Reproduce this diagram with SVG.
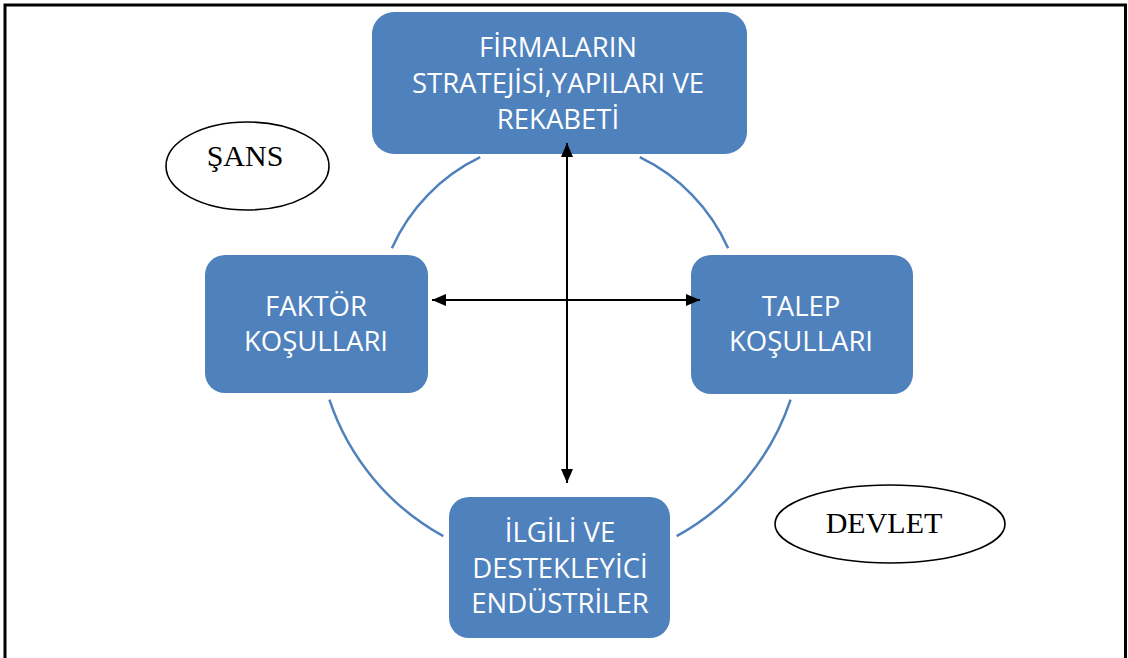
<svg xmlns="http://www.w3.org/2000/svg" width="1128" height="658" viewBox="0 0 1128 658">
  <defs>
    <marker id="ah" viewBox="0 0 14 12" refX="14" refY="6" markerWidth="14" markerHeight="12" markerUnits="userSpaceOnUse" orient="auto-start-reverse">
      <path d="M0,0 L14,6 L0,12 z" fill="#000"/>
    </marker>
  </defs>
  <style>
    .box { fill: #4F81BD; }
    .bt { font-family: "Open Sans", "Liberation Sans", sans-serif; font-size: 27.5px; fill: #fff; text-anchor: middle; }
    .oval { fill: #fff; stroke: #000; stroke-width: 1.6; }
    .ot { font-family: "Liberation Serif", serif; font-size: 30px; fill: #000; text-anchor: middle; }
    .arc { fill: none; stroke: #4F81BD; stroke-width: 2.5; }
    .conn { stroke: #000; stroke-width: 2; fill: none; }
  </style>
  <rect width="1128" height="658" fill="#fff"/>
  <path d="M5,658 V5 H1125.5 V658" fill="none" stroke="#000" stroke-width="3"/>

  <g id="cycle-arcs">
    <path class="arc" d="M480.2,157.2 A184,184 0 0 0 391.9,248.2"/>
    <path class="arc" d="M639.8,157.2 A184,184 0 0 1 728.1,248.2"/>
    <path class="arc" d="M329.4,399.7 A243,243 0 0 0 443.3,536.1"/>
    <path class="arc" d="M790.6,399.7 A243,243 0 0 1 676.7,536.1"/>
  </g>

  <g id="node-firmalar">
    <rect class="box" x="372" y="12" width="375" height="142" rx="22"/>
    <text class="bt" x="558" y="57">FİRMALARIN</text>
    <text class="bt" x="558" y="93">STRATEJİSİ,YAPILARI VE</text>
    <text class="bt" x="558" y="129">REKABETİ</text>
  </g>

  <g id="node-faktor">
    <rect class="box" x="205" y="255" width="223" height="138" rx="20"/>
    <text class="bt" x="316" y="316">FAKTÖR</text>
    <text class="bt" x="316" y="351">KOŞULLARI</text>
  </g>

  <g id="node-talep">
    <rect class="box" x="691" y="255" width="222" height="139" rx="20"/>
    <text class="bt" x="801" y="316">TALEP</text>
    <text class="bt" x="801" y="351">KOŞULLARI</text>
  </g>

  <g id="node-ilgili">
    <rect class="box" x="449" y="497" width="221" height="141" rx="20"/>
    <text class="bt" x="560" y="542">İLGİLİ VE</text>
    <text class="bt" x="560" y="578">DESTEKLEYİCİ</text>
    <text class="bt" x="560" y="613">ENDÜSTRİLER</text>
  </g>

  <g id="node-sans">
    <ellipse class="oval" cx="247.5" cy="166" rx="81.5" ry="44"/>
    <text class="ot" x="245" y="166">ŞANS</text>
  </g>

  <g id="node-devlet">
    <ellipse class="oval" cx="890" cy="524" rx="115" ry="39"/>
    <text class="ot" x="884" y="533">DEVLET</text>
  </g>

  <g id="connectors">
    <line class="conn" x1="567" y1="143" x2="567" y2="483" marker-start="url(#ah)" marker-end="url(#ah)"/>
    <line class="conn" x1="432" y1="300" x2="700" y2="300" marker-start="url(#ah)" marker-end="url(#ah)"/>
  </g>
</svg>
